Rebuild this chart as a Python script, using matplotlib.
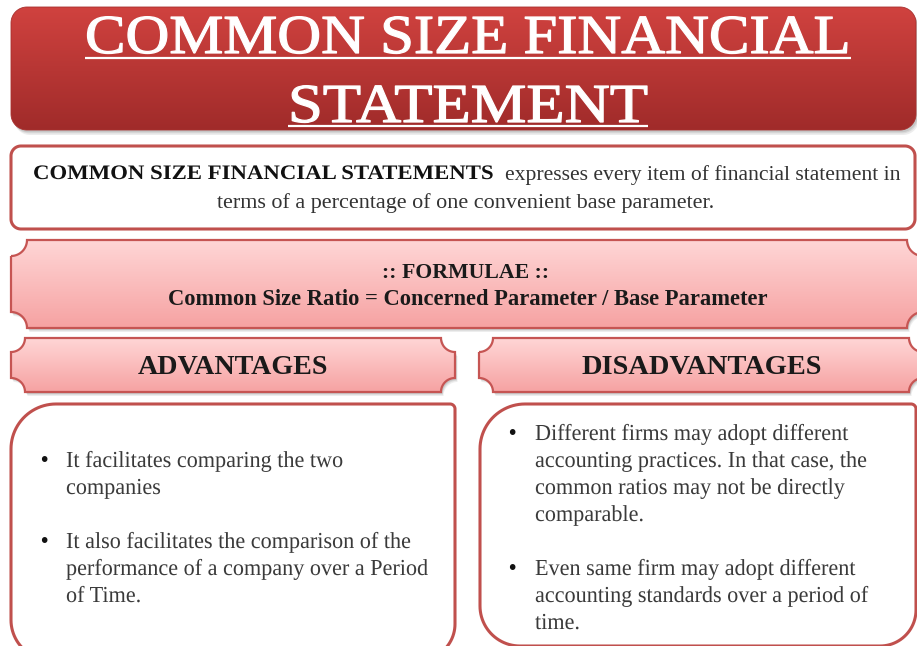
import numpy as np
import matplotlib
matplotlib.use("Agg")
import matplotlib.pyplot as plt
from matplotlib.patches import Polygon
from matplotlib.colors import to_rgb
from matplotlib.patheffects import AbstractPathEffect
from matplotlib.transforms import Affine2D

# ---------------- content ----------------
title_lines = ["COMMON SIZE FINANCIAL", "STATEMENT"]
definition_bold = "COMMON SIZE FINANCIAL STATEMENTS"
definition_rest = "expresses every item of financial statement in"
definition_line2 = "terms of a percentage of one convenient base parameter."
formula_lines = [":: FORMULAE ::", "Common Size Ratio = Concerned Parameter / Base Parameter"]
headings = ["ADVANTAGES", "DISADVANTAGES"]
advantages = [
    ["It facilitates comparing the two", "companies"],
    ["It also facilitates the comparison of the",
     "performance of a company over a Period", "of Time."],
]
disadvantages = [
    ["Different firms may adopt different", "accounting practices. In that case, the",
     "common ratios may not be directly", "comparable."],
    ["Even same firm may adopt different", "accounting standards over a period of", "time."],
]

W, H = 917, 646
fig = plt.figure(figsize=(W / 100, H / 100), dpi=100)
ax = fig.add_axes([0, 0, 1, 1])
ax.set_xlim(0, W)
ax.set_ylim(H, 0)
ax.axis("off")
renderer = fig.canvas.get_renderer()

SERIF = ["Liberation Serif", "DejaVu Serif"]
RED_EDGE = "#c0504d"
CAP_RATIO = 0.655  # cap height / em for Liberation Serif
PX_PER_PT = 100 / 72


class Stretch(AbstractPathEffect):
    """Scale glyph outlines horizontally about a display x position (optionally embolden)."""
    def __init__(self, sx, cx, lw=0.0):
        super().__init__()
        self.sx, self.cx, self.lw = sx, cx, lw

    def draw_path(self, renderer, gc, tpath, affine, rgbFace=None):
        aff = affine + Affine2D().translate(-self.cx, 0).scale(self.sx, 1).translate(self.cx, 0)
        gc0 = renderer.new_gc()
        gc0.copy_properties(gc)
        if self.lw > 0 and rgbFace is not None:
            gc0.set_linewidth(self.lw)
            gc0.set_foreground(rgbFace[:3])
        renderer.draw_path(gc0, tpath, aff, rgbFace)
        gc0.restore()


def rounded_poly(x0, y0, x1, y1, rtl, rtr, rbr, rbl, n=24):
    pts = []
    def arc(cx, cy, r, t0, t1):
        for t in np.linspace(t0, t1, n):
            pts.append((cx + r * np.cos(t), cy + r * np.sin(t)))
    arc(x0 + rtl, y0 + rtl, rtl, np.pi, 1.5 * np.pi)
    arc(x1 - rtr, y0 + rtr, rtr, 1.5 * np.pi, 2 * np.pi)
    arc(x1 - rbr, y1 - rbr, rbr, 0, 0.5 * np.pi)
    arc(x0 + rbl, y1 - rbl, rbl, 0.5 * np.pi, np.pi)
    return np.array(pts)


def plaque_poly(x0, y0, x1, y1, r, n=24):
    pts = []
    def arc(cx, cy, t0, t1):
        for t in np.linspace(t0, t1, n):
            pts.append((cx + r * np.cos(t), cy + r * np.sin(t)))
    arc(x0, y0, 0.5 * np.pi, 0)
    arc(x1, y0, np.pi, 0.5 * np.pi)
    arc(x1, y1, 1.5 * np.pi, np.pi)
    arc(x0, y1, 2 * np.pi, 1.5 * np.pi)
    return np.array(pts)


def shadow(pts, dx=2, dy=4):
    for k, a in [(1.0, 0.10), (0.6, 0.12), (0.3, 0.15)]:
        sp = pts + np.array([dx * k + 1, dy * k + 1])
        ax.add_patch(Polygon(sp, closed=True, facecolor="#555555", edgecolor="none",
                             alpha=a, zorder=1))


def gradient_patch(pts, c_top, c_bot, edge, lw, z=2):
    poly = Polygon(pts, closed=True, facecolor="none", edgecolor=edge, lw=lw, zorder=z + 1)
    ax.add_patch(poly)
    clip = Polygon(pts, closed=True, facecolor="none", edgecolor="none", transform=ax.transData)
    ax.add_patch(clip)
    y0, y1 = pts[:, 1].min(), pts[:, 1].max()
    x0, x1 = pts[:, 0].min(), pts[:, 0].max()
    t = np.linspace(0, 1, 256)[:, None]
    a, b = np.array(to_rgb(c_top)), np.array(to_rgb(c_bot))
    img = (a[None, :] * (1 - t) + b[None, :] * t)[:, None, :]
    im = ax.imshow(img, extent=[x0, x1, y1, y0], origin="upper", aspect="auto",
                   zorder=z, interpolation="bilinear")
    im.set_clip_path(clip)


def fit_text(x, y, s, width, ha="left", cap=None, bold_lw=0.0, **kw):
    t = ax.text(x, y, s, ha=ha, va="baseline", fontsize=20, **kw)
    bb = t.get_window_extent(renderer)
    if cap is None:
        t.set_fontsize(20 * width / bb.width)
    else:
        fs = cap / CAP_RATIO / PX_PER_PT
        t.set_fontsize(fs)
        bb = t.get_window_extent(renderer)
        sx = width / bb.width
        cx = ax.transData.transform((x, y))[0]
        t.set_path_effects([Stretch(sx, cx, bold_lw)])
    return t


# ---------------- title ----------------
tp = rounded_poly(11, 7, 916, 130, 16, 16, 16, 16)
shadow(tp, 2, 4)
gradient_patch(tp, "#d0423f", "#a02b2a", "#a8302e", 0.6)
title_geom = [(468, 53, 766, 58), (468, 122, 360, 126)]
for line, (cx, by, wd, uy) in zip(title_lines, title_geom):
    fit_text(cx, by, line, wd, ha="center", cap=36, bold_lw=0.9, color="white",
             family=SERIF, zorder=5)
    ax.plot([cx - wd / 2, cx + wd / 2], [uy, uy], color="white", lw=1.6, zorder=5,
            solid_capstyle="butt")

# ---------------- definition ----------------
dp = rounded_poly(11, 146, 915, 229, 10, 10, 10, 10)
ax.add_patch(Polygon(dp, closed=True, facecolor="white", edgecolor=RED_EDGE, lw=2.2, zorder=3))
fit_text(33, 179, definition_bold, 460, cap=13.5, color="#111111", family=SERIF,
         weight="bold", zorder=5)
fit_text(505, 180, definition_rest, 395, color="#333333", family=SERIF, zorder=5)
fit_text(466, 208, definition_line2, 497, ha="center", color="#333333", family=SERIF, zorder=5)

# ---------------- formula banner ----------------
PINK_T, PINK_B, PINK_E = "#ffd6d6", "#f6a2a2", "#c65553"
fp = plaque_poly(11, 240, 923, 328, 16)
shadow(fp, 1.5, 3)
gradient_patch(fp, PINK_T, PINK_B, PINK_E, 1.6)
fit_text(466, 278, formula_lines[0], 167, ha="center", color="#1a1a1a", family=SERIF,
         weight="bold", zorder=5)
fit_text(468, 305, formula_lines[1], 600, ha="center", color="#1a1a1a", family=SERIF,
         weight="bold", zorder=5)

# ---------------- headings ----------------
head_geom = [(11, 455, 233, 190), (479, 923, 702, 240)]
for h, (x0, x1, cx, wd) in zip(headings, head_geom):
    hp = plaque_poly(x0, 338, x1, 392, 14)
    shadow(hp, 1.5, 3)
    gradient_patch(hp, PINK_T, PINK_B, PINK_E, 1.6)
    fit_text(cx, 374, h, wd, ha="center", color="#1a1a1a", family=SERIF,
             weight="bold", zorder=5)

# ---------------- content boxes ----------------
ap = rounded_poly(11, 404, 455, 660, 45, 5, 36, 40)
ax.add_patch(Polygon(ap, closed=True, facecolor="white", edgecolor=RED_EDGE, lw=2.2, zorder=3))
bp = rounded_poly(480, 404, 916, 646, 45, 5, 36, 40)
ax.add_patch(Polygon(bp, closed=True, facecolor="white", edgecolor=RED_EDGE, lw=2.2, zorder=3))

# body font: cap height ~15 px, horizontal scale so the reference line is ~362 px wide
BODY_CAP = 15.0
body_fs = BODY_CAP / CAP_RATIO / PX_PER_PT
probe = ax.text(0, 0, advantages[1][1], fontsize=body_fs, family=SERIF)
body_sx = 362 / probe.get_window_extent(renderer).width
probe.remove()

LINE = 27


def bullets(items, xb, xt, y0, gap):
    y = y0
    cx = ax.transData.transform((xt, 0))[0]
    for item in items:
        ax.text(xb, y - 1, "\u2022", ha="left", va="baseline", fontsize=body_fs * 0.85,
                color="#111111", family=["DejaVu Sans"], zorder=5)
        for ln in item:
            t = ax.text(xt, y, ln, ha="left", va="baseline", fontsize=body_fs,
                        color="#3a3a3a", family=SERIF, zorder=5)
            t.set_path_effects([Stretch(body_sx, cx)])
            y += LINE
        y += gap


bullets(advantages, 38, 66, 467, 27)
bullets(disadvantages, 506, 535, 440, 27)

fig.savefig("out.png", dpi=100)
